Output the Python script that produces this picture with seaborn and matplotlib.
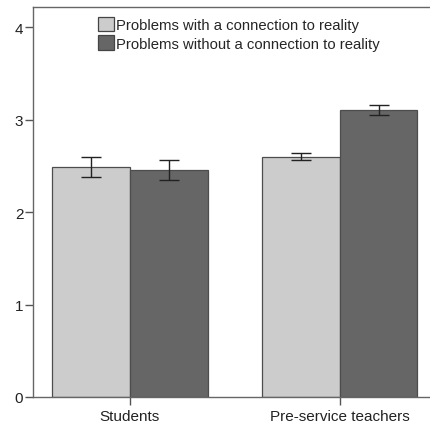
"""
Mean ratings by group and problem type, with error bars
"""

import pandas as pd
import numpy as np
import matplotlib.pyplot as plt
import seaborn as sns
from matplotlib.patches import Patch

groups = ['Students', 'Pre-service teachers']
problem_types = ['Problems with a connection to reality',
                 'Problems without a connection to reality']
means_reality = [2.49, 2.60]
means_no_reality = [2.46, 3.11]
err_low_reality = [2.38, 2.57]
err_high_reality = [2.60, 2.64]
err_low_no_reality = [2.35, 3.05]
err_high_no_reality = [2.57, 3.16]
colors = ['#cccccc', '#666666']

df = pd.DataFrame({
    'group': groups * 2,
    'type': [problem_types[0]] * 2 + [problem_types[1]] * 2,
    'mean': means_reality + means_no_reality,
    'low': err_low_reality + err_low_no_reality,
    'high': err_high_reality + err_high_no_reality,
})

sns.set_style('white')
plt.rcParams['font.family'] = ['Liberation Sans', 'DejaVu Sans']

fig = plt.figure(figsize=(4.31, 4.27), dpi=100)
ax = fig.add_axes([0.0766, 0.068, 0.9234, 0.913])

sns.barplot(data=df, x='group', y='mean', hue='type', order=groups,
            hue_order=problem_types, palette=colors,
            errorbar=None, width=0.74, saturation=1, ax=ax)

for patch in ax.patches:
    if patch.get_height() > 0:
        patch.set_edgecolor('#4d4d4d')
        patch.set_linewidth(0.9)

# error bars drawn at the centres of the seaborn bars
for cont, ptype in zip(ax.containers, problem_types):
    sub = df[df['type'] == ptype].set_index('group').loc[groups]
    xs = [b.get_x() + b.get_width() / 2 for b in cont]
    mid = (sub['low'].values + sub['high'].values) / 2
    half = (sub['high'].values - sub['low'].values) / 2
    ax.errorbar(xs, mid, yerr=half, fmt='none', ecolor='#222222',
                elinewidth=1.0, capsize=7, capthick=1.0)

ax.set_xlim(-0.462, 1.435)
ax.set_ylim(0, 4.22)
ax.set_yticks([0, 1, 2, 3, 4])
ax.set_xlabel('')
ax.set_ylabel('')
ax.tick_params(axis='both', direction='out', length=6, width=1,
               left=True, bottom=True, color='#555555',
               labelsize=11, labelcolor='#222222', pad=1)
ax.tick_params(axis='x', pad=3)
for s in ax.spines.values():
    s.set_color('#666666')
    s.set_linewidth(1)
ax.spines['right'].set_visible(False)

handles = [Patch(facecolor=c, edgecolor='#444444', linewidth=0.9) for c in colors]
ax.legend(handles, problem_types, loc='upper left',
          bbox_to_anchor=(0.14, 0.997), frameon=False,
          fontsize=10.7, handlelength=1.1, handleheight=1.1,
          handletextpad=0.15, labelspacing=0.2, borderaxespad=0.2)

plt.savefig('out.png', dpi=100)
